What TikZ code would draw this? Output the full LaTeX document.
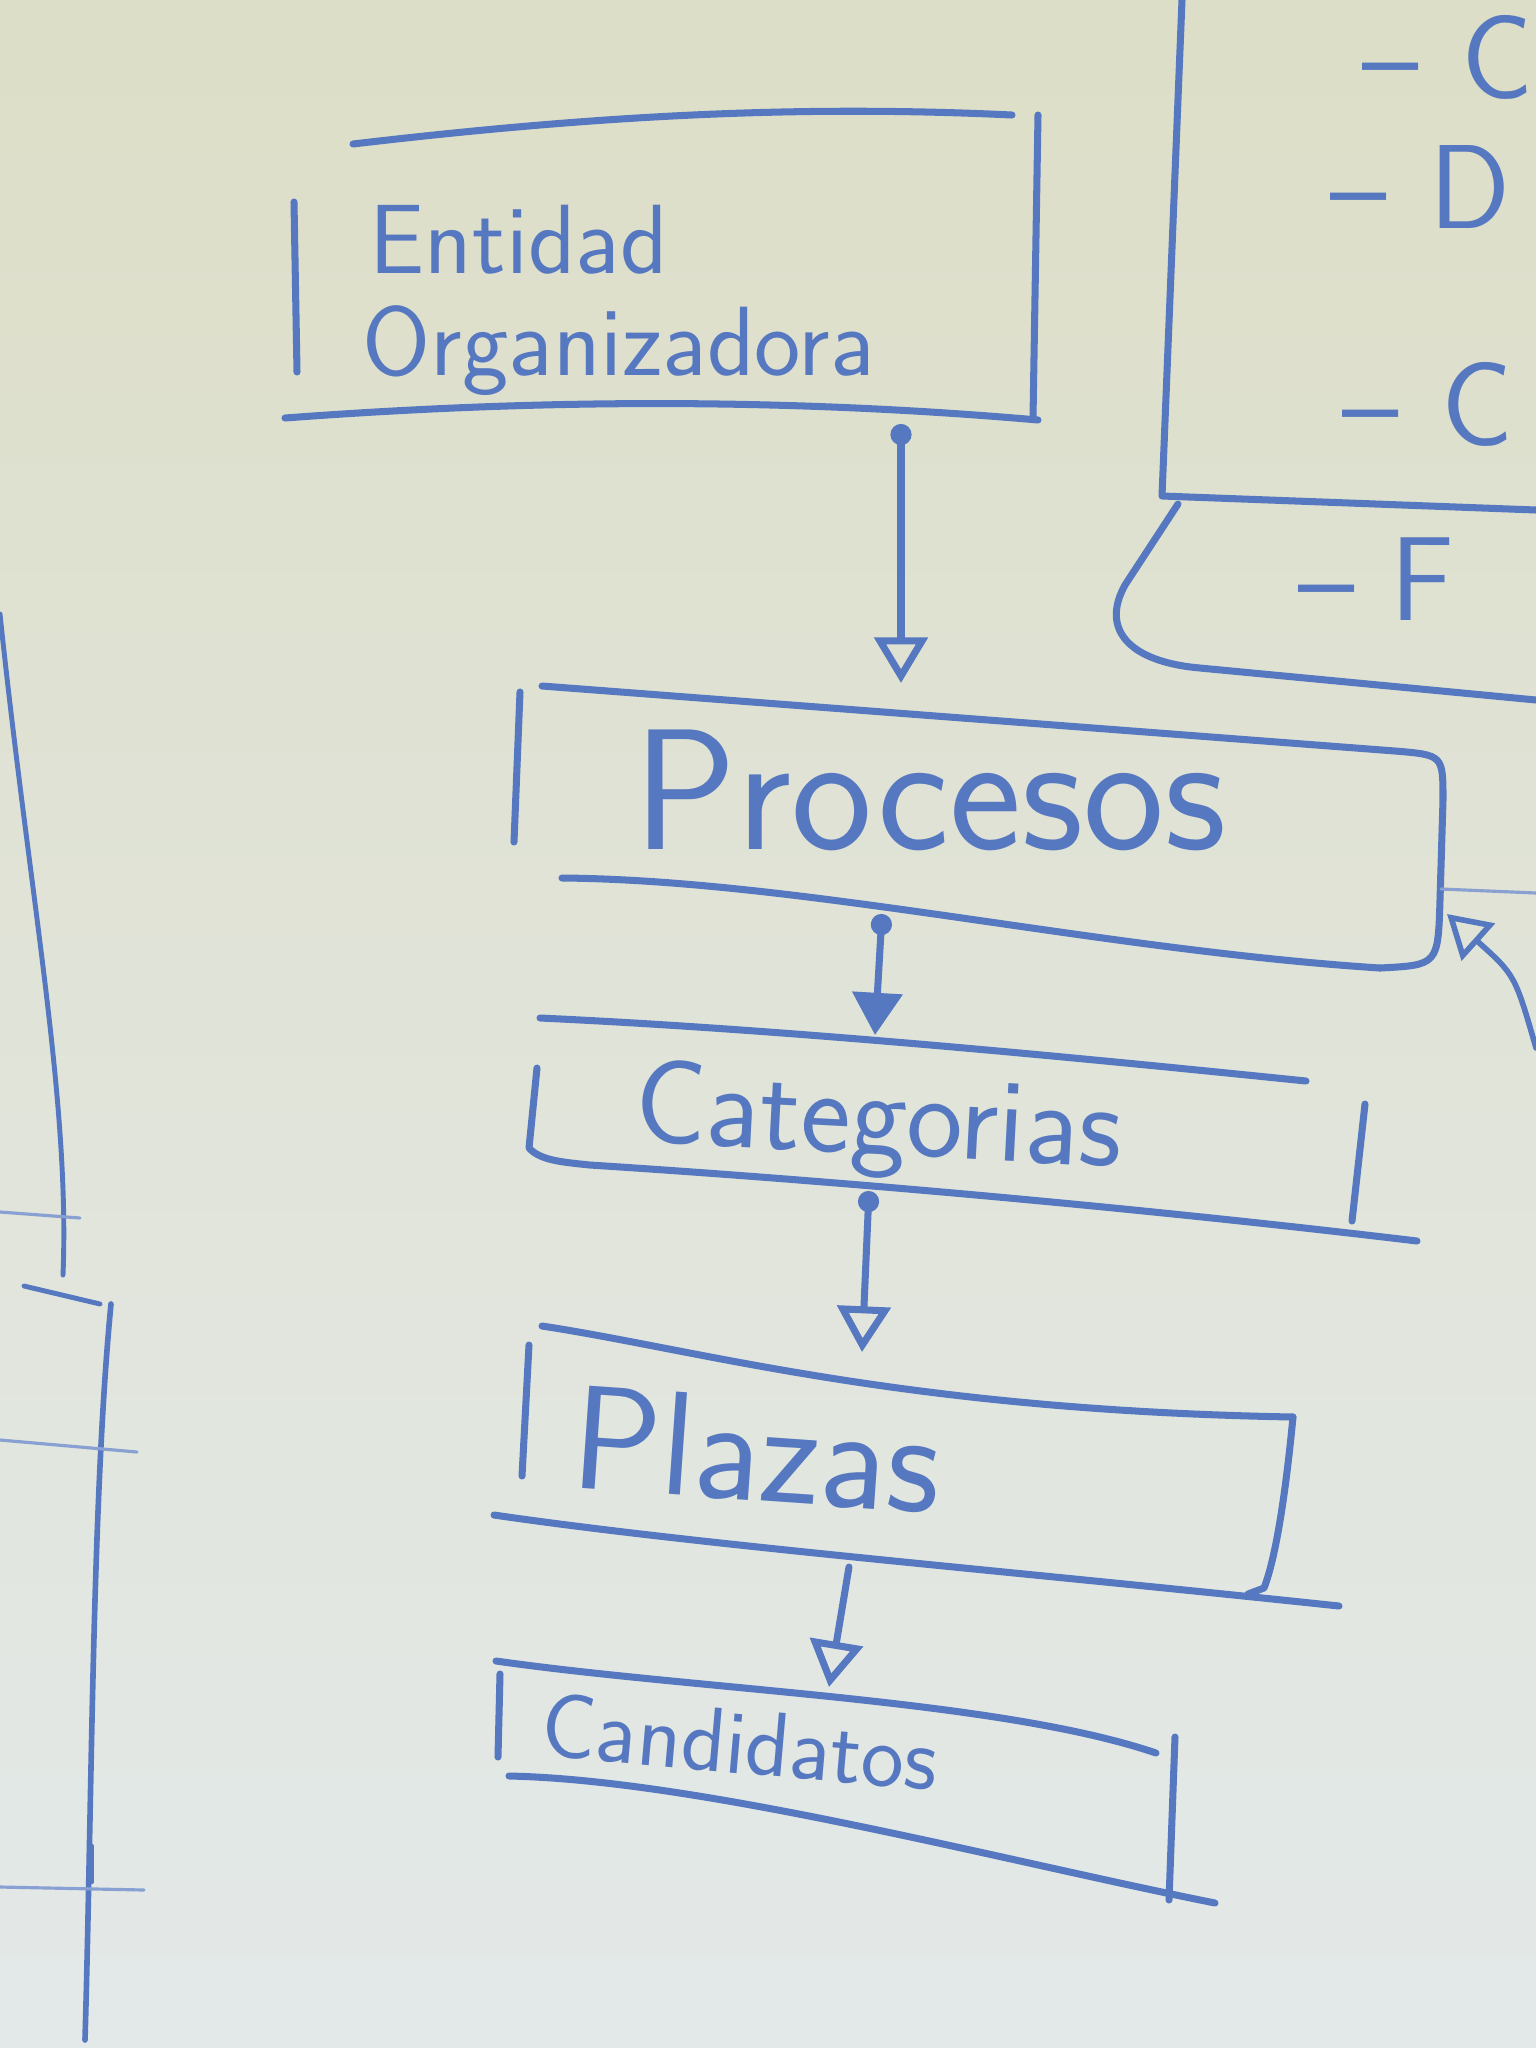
\documentclass[tikz,border=0pt]{standalone}
\usepackage{tikz}
\usetikzlibrary{arrows.meta}
\definecolor{ink}{RGB}{86,120,192}
\definecolor{boardtop}{RGB}{221,222,199}
\definecolor{boardbot}{RGB}{227,233,233}

\begin{document}
\begin{tikzpicture}[x=.01cm,y=-.01cm,
    pen/.style={draw=ink,line width=2pt,line cap=round,line join=round},
    faint/.style={draw=ink!70,line width=.9pt,line cap=round},
    flow/.style={pen,{Circle[length=6pt]}-{Triangle[open,length=13pt,width=15pt]}},
    word/.style={text=ink,inner sep=0pt}]
    \useasboundingbox (0,0) rectangle (1536,2048);
    \shade[top color=boardtop,bottom color=boardbot] (0,0) rectangle (1536,2048);
    \clip (0,0) rectangle (1536,2048);

    % Entidad Organizadora
    \draw[pen] (353,144) .. controls (600,115) and (800,105) .. (1012,115);
    \draw[pen] (294,202) -- (297,372);
    \draw[pen] (1038,115) -- (1033,418);
    \draw[pen] (285,418) .. controls (500,402) and (750,395) .. (1038,420);
    \node[word,anchor=west,align=left,font=\sffamily\fontsize{28}{29}\selectfont] (ent) at (362,300) {\hspace{2pt}Entidad\\Organizadora};
    \coordinate (ent-s) at (901,424);

    % Procesos
    \draw[pen] (520,692) -- (514,842);
    \draw[pen] (542,686) -- (1395,751) .. controls (1443,755) .. (1443,800) -- (1440,900) .. controls (1438,965) .. (1380,968);
    \draw[pen] (562,878) .. controls (800,880) and (1100,950) .. (1380,968);
    \node[word,font=\sffamily\fontsize{49}{49}\selectfont] (pro) at (930,790) {Procesos};
    \coordinate (pro-n) at (901,683);
    \coordinate (pro-s) at (882,914);
    \coordinate (pro-e) at (1441,889);
    \coordinate (pro-se) at (1447,914);
    \coordinate (out-e) at (1536,893);
    \coordinate (in-se) at (1536,1048);

    % Categorias
    \draw[pen] (540,1018) .. controls (800,1030) and (1100,1060) .. (1306,1081);
    \draw[pen] (537,1068) -- (529,1148) .. controls (540,1160) and (560,1162) .. (590,1165) .. controls (900,1185) and (1200,1215) .. (1417,1241);
    \draw[pen] (1365,1104) -- (1352,1221);
    \node[word,rotate=-3,font=\sffamily\fontsize{34}{34}\selectfont] (cat) at (878,1125) {Categorias};
    \coordinate (cat-n) at (875,1035);
    \coordinate (cat-s) at (869,1191);

    % Plazas
    \draw[pen] (542,1326) .. controls (700,1350) and (900,1410) .. (1293,1417);
    \draw[pen] (529,1345) -- (522,1476);
    \draw[pen] (1293,1417) .. controls (1285,1500) and (1275,1560) .. (1264,1588) -- (1248,1594);
    \draw[pen] (494,1515) .. controls (700,1545) and (1000,1570) .. (1339,1606);
    \node[word,rotate=-4,font=\sffamily\fontsize{42}{42}\selectfont] (pla) at (757,1450) {Plazas};
    \coordinate (pla-n) at (862,1352);
    \coordinate (pla-s) at (849,1567);

    % Candidatos
    \draw[pen] (496,1661) .. controls (700,1690) and (1000,1700) .. (1156,1753);
    \draw[pen] (500,1674) -- (498,1757);
    \draw[pen] (1175,1737) -- (1169,1900);
    \draw[pen] (509,1776) .. controls (700,1780) and (1000,1860) .. (1215,1903);
    \node[word,rotate=-5,font=\sffamily\fontsize{26}{26}\selectfont] (can) at (740,1742) {Candidatos};
    \coordinate (can-n) at (829,1687);

    \draw[flow] (ent-s) -- (pro-n);
    \draw[pen,{Circle[length=6pt]}-{Triangle[length=12pt,width=14pt]}] (pro-s) -- (cat-n);
    \draw[flow] (cat-s) -- (pla-n);
    \draw[pen,-{Triangle[open,length=13pt,width=15pt]}] (pla-s) -- (can-n);
    \draw[faint] (pro-e) -- (out-e);
    \draw[pen,line width=1.6pt,-{Triangle[open,length=12pt,width=14pt]}] (in-se) .. controls (1515,975) .. (pro-se);

    % panel at the right
    \draw[pen] (1182,0) -- (1162,496) -- (1536,510);
    \draw[pen] (1178,504) -- (1125,585) .. controls (1100,630) and (1130,662) .. (1200,668) -- (1536,700);
    \begin{scope}[every node/.style={word,anchor=base west,font=\sffamily\fontsize{34}{34}\selectfont}]
    \node (it1) at (1362,98) {--\hspace{12pt}C};
    \node (it2) at (1330,228) {--\hspace{12pt}D};
    \node (it3) at (1342,445) {--\hspace{12pt}C};
    \node (it4) at (1298,620) {--\hspace{10pt}F};
    \end{scope}

    % board edges at the left
    \draw[pen,line width=1.4pt] (0,614) .. controls (30,900) and (70,1100) .. (63,1275);
    \draw[faint] (0,1212) -- (80,1218);
    \draw[pen,line width=1.4pt] (24,1286) -- (100,1304);
    \draw[pen,line width=1.6pt] (111,1304) .. controls (92,1500) and (92,1800) .. (85,2040);
    \draw[faint] (0,1440) -- (137,1452);
    \draw[faint] (0,1887) -- (144,1890);
    \draw[pen,line width=1.2pt] (92,1846) -- (92,1882);
\end{tikzpicture}
\end{document}
